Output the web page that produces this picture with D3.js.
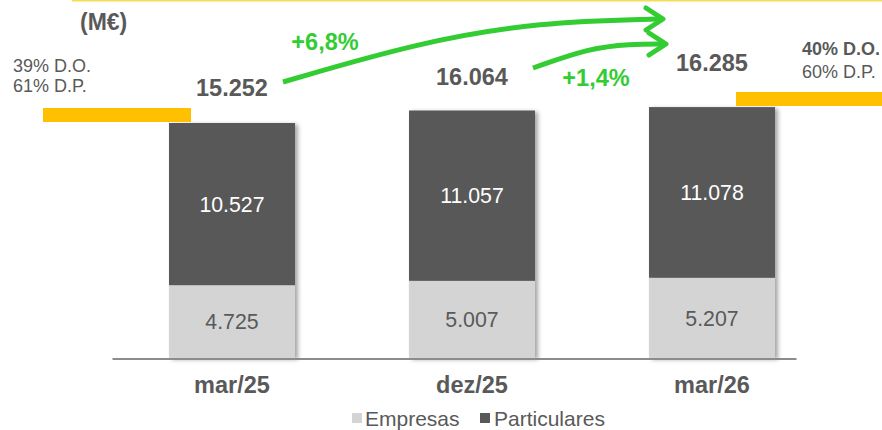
<!DOCTYPE html>
<html>
<head>
<meta charset="utf-8">
<script src="https://cdn.jsdelivr.net/npm/d3@7/dist/d3.min.js"></script>
<style>
  html, body { margin: 0; padding: 0; background: #fff; }
  svg { display: block; font-family: "Liberation Sans", Arial, sans-serif; }
</style>
</head>
<body>
<svg id="chart" width="882" height="430"></svg>
<script>
// Credit portfolio (M€) by period
const periods = ["mar/25", "dez/25", "mar/26"];
const empresas = [4725, 5007, 5207];
const particulares = [10527, 11057, 11078];
const totals = ["15.252", "16.064", "16.285"];
const seriesNames = ["Empresas", "Particulares"];
const growthLabels = ["+6,8%", "+1,4%"];
const mixStart = ["39% D.O.", "61% D.P."];
const mixEnd = ["40% D.O.", "60% D.P."];

const fmt = v => d3.format(",")(v).replace(/,/g, ".");

const svg = d3.select("#chart");
const W = 882, H = 430;
const colors = { Empresas: "#d4d4d4", Particulares: "#595959" };
const textGray = "#595959";
const green = "#33cc33";
const gold = "#ffc000";

// shadow under the bars
const defs = svg.append("defs");
const f = defs.append("filter").attr("id", "shadow")
  .attr("x", "-10%").attr("y", "-10%").attr("width", "130%").attr("height", "130%");
f.append("feDropShadow").attr("dx", 3).attr("dy", 1.5).attr("stdDeviation", 2)
  .attr("flood-color", "#000").attr("flood-opacity", 0.35);

// bar centres ~240px apart, each bar ~126px wide
const barW = 126;
const xc = d3.scalePoint().domain(periods).range([232, 712]);

const totalVals = periods.map((p, i) => empresas[i] + particulares[i]);
const y = d3.scaleLinear().domain([0, totalVals[0]]).range([358, 123]);

const stackData = periods.map((p, i) => ({ period: p, Empresas: empresas[i], Particulares: particulares[i] }));
const stacked = d3.stack().keys(seriesNames)(stackData);

// thin yellow rule at the top
svg.append("line").attr("x1", 72).attr("x2", W).attr("y1", 0.75).attr("y2", 0.75)
  .attr("stroke", "#f7dc55").attr("stroke-width", 1.5);

// bars
const barG = svg.append("g").attr("filter", "url(#shadow)");
stacked.forEach(layer => {
  barG.selectAll(null).data(layer).enter().append("rect")
    .attr("x", d => xc(d.data.period) - barW / 2)
    .attr("width", barW)
    .attr("y", d => y(d[1]))
    .attr("height", d => y(d[0]) - y(d[1]))
    .attr("fill", colors[layer.key]);
});

// baseline axis
const axisG = svg.append("g").attr("transform", `translate(0,${y(0) + 0.5})`);
axisG.call(d3.axisBottom(d3.scaleLinear().range([112, 796])).ticks(0).tickSize(0).tickFormat(""));
axisG.select(".domain").attr("stroke", "#8c8c8c").attr("stroke-width", 2);

// segment value labels
stacked.forEach(layer => {
  svg.selectAll(null).data(layer).enter().append("text")
    .attr("x", d => xc(d.data.period))
    .attr("y", d => (y(d[0]) + y(d[1])) / 2)
    .attr("dy", "0.36em")
    .attr("text-anchor", "middle")
    .attr("font-size", 21.3)
    .attr("fill", layer.key === "Particulares" ? "#ffffff" : textGray)
    .text(d => fmt(d.data[layer.key]));
});

// totals above the bars
const totalLift = [35, 34, 45];
svg.selectAll(null).data(periods).enter().append("text")
  .attr("x", p => xc(p))
  .attr("y", (p, i) => y(totalVals[i]) - totalLift[i])
  .attr("dy", "0.36em")
  .attr("text-anchor", "middle")
  .attr("font-size", 23.5).attr("font-weight", "bold")
  .attr("fill", textGray)
  .text((p, i) => totals[i]);

// period labels
svg.selectAll(null).data(periods).enter().append("text")
  .attr("x", p => xc(p)).attr("y", 385).attr("dy", "0.36em")
  .attr("text-anchor", "middle")
  .attr("font-size", 23.5).attr("font-weight", "bold")
  .attr("fill", textGray)
  .text(p => p);

// legend
const legendPos = [{ sx: 352, tx: 365 }, { sx: 480, tx: 494 }];
seriesNames.forEach((s, i) => {
  svg.append("rect").attr("x", legendPos[i].sx).attr("y", 413).attr("width", 10).attr("height", 10)
    .attr("fill", colors[s]);
  svg.append("text").attr("x", legendPos[i].tx).attr("y", 418).attr("dy", "0.36em")
    .attr("font-size", 21).attr("fill", textGray).text(s);
});

// unit label
svg.append("text").attr("x", 80).attr("y", 22).attr("dy", "0.36em")
  .attr("font-size", 23).attr("font-weight", "bold").attr("fill", textGray).text("(M€)");

// deposit mix notes with gold markers
svg.append("rect").attr("x", 43).attr("y", 108).attr("width", 148).attr("height", 14).attr("fill", gold);
svg.append("rect").attr("x", 736).attr("y", 92).attr("width", 146).attr("height", 14).attr("fill", gold);
mixStart.forEach((t, i) => {
  svg.append("text").attr("x", 13).attr("y", 66 + i * 20).attr("dy", "0.36em")
    .attr("font-size", 18).attr("fill", textGray).text(t);
});
mixEnd.forEach((t, i) => {
  svg.append("text").attr("x", 802).attr("y", 49 + i * 23).attr("dy", "0.36em")
    .attr("font-size", 18).attr("font-weight", i === 0 ? "bold" : "normal")
    .attr("fill", textGray).text(t);
});

// growth arrows
const line = d3.line().curve(d3.curveBasis);
const arrows = [
  { pts: [[283, 82], [420, 42], [540, 22], [660, 19]], tip: [663, 19] },
  { pts: [[533, 68], [590, 48], [630, 44], [664, 44]], tip: [666, 44] }
];
arrows.forEach(a => {
  svg.append("path").attr("d", line(a.pts)).attr("fill", "none")
    .attr("stroke", green).attr("stroke-width", 5).attr("stroke-linecap", "butt");
  const [tx, ty] = a.tip;
  svg.append("path")
    .attr("d", `M${tx - 17},${ty - 11} L${tx},${ty} L${tx - 17},${ty + 11}`)
    .attr("fill", "none").attr("stroke", green).attr("stroke-width", 5)
    .attr("stroke-linecap", "round").attr("stroke-linejoin", "round");
});
svg.selectAll(null).data(growthLabels).enter().append("text")
  .attr("x", (d, i) => [325, 596][i]).attr("y", (d, i) => [42, 78][i]).attr("dy", "0.36em")
  .attr("text-anchor", "middle").attr("font-size", 23.5).attr("font-weight", "bold")
  .attr("fill", green).text(d => d);
</script>
</body>
</html>
